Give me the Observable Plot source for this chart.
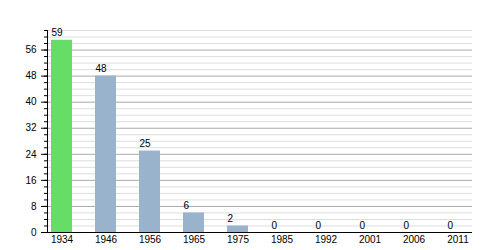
<!DOCTYPE html>
<html>
<head>
<meta charset="utf-8">
<script src="https://cdn.jsdelivr.net/npm/d3@7"></script>
<script src="https://cdn.jsdelivr.net/npm/@observablehq/plot@0.6"></script>
<style>
  html, body { margin: 0; padding: 0; background: #fff; }
  svg { font-family: "Liberation Sans", Arial, sans-serif; }
</style>
</head>
<body>
<div id="chart"></div>
<script>
const years = ["1934", "1946", "1956", "1965", "1975", "1985", "1992", "2001", "2006", "2011"];
const values = [59, 48, 25, 6, 2, 0, 0, 0, 0, 0];
const highlight = ["1934"];
const majorTicks = [0, 8, 16, 24, 32, 40, 48, 56];
const minorTicks = d3.range(0, 63, 2);

const data = years.map((y, i) => ({year: y, value: values[i], hl: highlight.includes(y)}));

const chart = Plot.plot({
  width: 500,
  height: 250,
  marginLeft: 47,
  marginRight: 28,
  marginTop: 30,
  marginBottom: 18,
  style: {fontFamily: "Liberation Sans, Arial, sans-serif", fontSize: "10px", background: "#fff", color: "#000"},
  x: {domain: years, paddingInner: 0.525, paddingOuter: 0.06, label: null},
  y: {domain: [0, 62], label: null},
  marks: [
    Plot.ruleY(minorTicks.filter(d => d % 8 !== 0), {stroke: "#dddddd", strokeWidth: 1}),
    Plot.ruleY(majorTicks.filter(d => d > 0), {stroke: "#aaaaaa", strokeWidth: 1}),
    Plot.barY(data, {x: "year", y: "value", fill: d => d.hl ? "#66dd66" : "#99b3cd"}),
    Plot.text(data, {x: "year", y: "value", text: d => String(d.value), textAnchor: "start", lineAnchor: "bottom", dx: -10.5, dy: -4, fontSize: 10, fill: "#000"}),
    Plot.axisY({ticks: minorTicks, tickSize: 3, text: null, label: null}),
    Plot.axisY({ticks: majorTicks, tickSize: 6, tickPadding: 5, label: null}),
    Plot.axisX({tickSize: 0, tickPadding: 3, label: null}),
    Plot.ruleY([0], {stroke: "#000"}),
    Plot.frame({anchor: "left", stroke: "#000"})
  ]
});
document.getElementById("chart").appendChild(chart);
</script>
</body>
</html>
